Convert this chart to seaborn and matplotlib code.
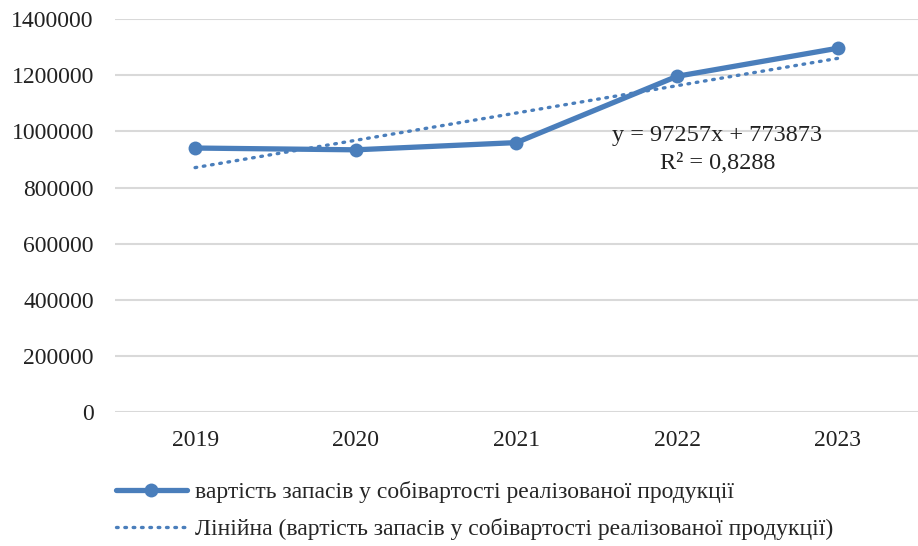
import numpy as np
import pandas as pd
import matplotlib
matplotlib.use("Agg")
import matplotlib.pyplot as plt
import seaborn as sns

years = ["2019", "2020", "2021", "2022", "2023"]
values = [940860, 934527, 960244, 1196361, 1296228]
series_name = "вартість запасів у собівартості реалізованої продукції"
trend_name = "Лінійна (вартість запасів у собівартості реалізованої продукції)"
yticks = [0, 200000, 400000, 600000, 800000, 1000000, 1200000, 1400000]

sns.set_style("white")
plt.rcParams['font.family'] = ['Liberation Serif', 'DejaVu Serif']

blue = "#4A7EBB"
text_col = "#222222"

df = pd.DataFrame({"year": years, "value": values})
df["x"] = np.arange(len(df))

# linear trend on x = 1..n, like the spreadsheet does
slope, intercept = np.polyfit(df["x"] + 1, df["value"], 1)
df["trend"] = slope * (df["x"] + 1) + intercept
ss_res = ((df["value"] - df["trend"]) ** 2).sum()
ss_tot = ((df["value"] - df["value"].mean()) ** 2).sum()
r2 = 1 - ss_res / ss_tot

fig = plt.figure(figsize=(9.18, 5.46), dpi=100)
ax = fig.add_axes([0.125, 0.245, 0.875, 0.72])

sns.lineplot(data=df, x="x", y="value", ax=ax, color=blue, lw=3.8,
             marker="o", markersize=10, markeredgewidth=0, label=series_name)
sns.lineplot(data=df, x="x", y="trend", ax=ax, color=blue, lw=2.4,
             linestyle=(0, (0.5, 2.0)), dash_capstyle="round", label=trend_name)

ax.set_xlim(-0.5, len(years) - 0.5)
ax.set_ylim(0, 1400000)
ax.set_xticks(df["x"])
ax.set_xticklabels(years)
ax.set_yticks(yticks)
ax.set_yticklabels([str(t) for t in yticks])
ax.tick_params(axis="both", labelsize=17, length=0, colors=text_col)
ax.tick_params(axis="x", pad=13)
ax.tick_params(axis="y", pad=15)
ax.set_xlabel("")
ax.set_ylabel("")
ax.grid(axis="y", color="#D9D9D9", lw=1.5)
ax.set_axisbelow(True)
sns.despine(ax=ax, left=True, bottom=True)

eq = f"y = {slope:.0f}x + {intercept:.0f}\nR² = {r2:.4f}".replace(".", ",")
ax.text(3.25, 935000, eq, ha="center", va="center", fontsize=17.5,
        color=text_col, linespacing=1.4)

handles, labels = ax.get_legend_handles_labels()
ax.get_legend().remove()
fig.legend(handles, labels, loc="upper left", bbox_to_anchor=(0.116, 0.136),
           frameon=False, handlelength=3.0, handletextpad=0.35,
           labelspacing=0.62, borderaxespad=0, prop={"stretch": "condensed", "size": 17})

fig.savefig("out.png", dpi=100)
